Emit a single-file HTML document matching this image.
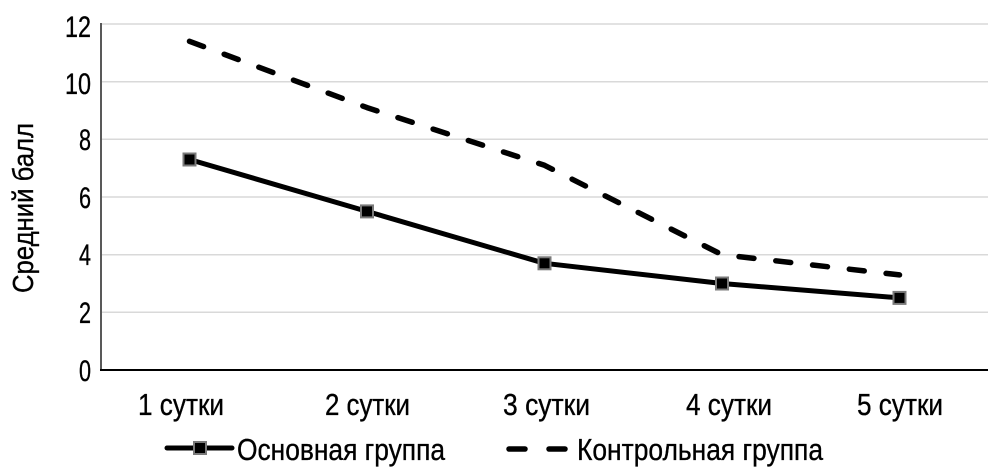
<!DOCTYPE html>
<html>
<head>
<meta charset="utf-8">
<style>
html,body{margin:0;padding:0;background:#fff;}
svg{display:block;}
text{font-family:"Liberation Sans Narrow","Liberation Sans","DejaVu Sans",sans-serif;fill:#000;stroke:#000;stroke-width:0.35px;}
</style>
</head>
<body>
<svg width="991" height="475" viewBox="0 0 991 475" xmlns="http://www.w3.org/2000/svg">
  <!-- gridlines -->
  <g stroke="#d9d9d9" stroke-width="1.5">
    <line x1="101" y1="24" x2="988" y2="24"/>
    <line x1="101" y1="81.7" x2="988" y2="81.7"/>
    <line x1="101" y1="139.3" x2="988" y2="139.3"/>
    <line x1="101" y1="197" x2="988" y2="197"/>
    <line x1="101" y1="254.7" x2="988" y2="254.7"/>
    <line x1="101" y1="312.3" x2="988" y2="312.3"/>
  </g>
  <!-- axes -->
  <line x1="101" y1="23" x2="101" y2="371" stroke="#595959" stroke-width="2"/>
  <line x1="100" y1="370" x2="988" y2="370" stroke="#000" stroke-width="2"/>

  <!-- y labels -->
  <g font-size="30" text-anchor="end">
    <text x="91" y="37" textLength="26" lengthAdjust="spacingAndGlyphs">12</text>
    <text x="91" y="94" textLength="26" lengthAdjust="spacingAndGlyphs">10</text>
    <text x="91" y="150" textLength="12" lengthAdjust="spacingAndGlyphs">8</text>
    <text x="91" y="208" textLength="12" lengthAdjust="spacingAndGlyphs">6</text>
    <text x="91" y="265" textLength="12" lengthAdjust="spacingAndGlyphs">4</text>
    <text x="91" y="323" textLength="12" lengthAdjust="spacingAndGlyphs">2</text>
    <text x="91" y="381" textLength="12" lengthAdjust="spacingAndGlyphs">0</text>
  </g>

  <!-- y title -->
  <text transform="translate(33,293) rotate(-90)" font-size="29" textLength="170" lengthAdjust="spacingAndGlyphs">Средний балл</text>

  <!-- x labels -->
  <g font-size="31">
    <text x="138" y="415" textLength="86" lengthAdjust="spacingAndGlyphs">1 сутки</text>
    <text x="325" y="415" textLength="85" lengthAdjust="spacingAndGlyphs">2 сутки</text>
    <text x="503" y="415" textLength="87" lengthAdjust="spacingAndGlyphs">3 сутки</text>
    <text x="686" y="415" textLength="86" lengthAdjust="spacingAndGlyphs">4 сутки</text>
    <text x="857" y="415" textLength="86" lengthAdjust="spacingAndGlyphs">5 сутки</text>
  </g>

  <!-- control group dashed -->
  <polyline points="189.5,41.3 367,107.6 544.5,165.3 722,254.7 899.5,274.9" fill="none" stroke="#000" stroke-width="5.5" stroke-dasharray="15 22" stroke-linecap="round" stroke-linejoin="round"/>

  <!-- main group solid -->
  <polyline points="189.5,159.5 367,211.4 544.5,263.3 722,283.5 899.5,297.9" fill="none" stroke="#000" stroke-width="5" stroke-linejoin="round"/>
  <g fill="#000" stroke="#7a7a7a" stroke-width="2">
    <rect x="183.5" y="153.5" width="12" height="12"/>
    <rect x="361" y="205.4" width="12" height="12"/>
    <rect x="538.5" y="257.3" width="12" height="12"/>
    <rect x="716" y="277.5" width="12" height="12"/>
    <rect x="893.5" y="291.9" width="12" height="12"/>
  </g>

  <!-- legend -->
  <line x1="167" y1="448" x2="232" y2="448" stroke="#000" stroke-width="5" stroke-linecap="round"/>
  <rect x="194" y="442" width="12" height="12" fill="#000" stroke="#7a7a7a" stroke-width="2"/>
  <text x="237" y="460" font-size="31" textLength="208" lengthAdjust="spacingAndGlyphs">Основная группа</text>

  <line x1="509" y1="449" x2="525" y2="449" stroke="#000" stroke-width="5.5" stroke-linecap="round"/>
  <line x1="549" y1="449" x2="565" y2="449" stroke="#000" stroke-width="5.5" stroke-linecap="round"/>
  <text x="577" y="460" font-size="31" textLength="246" lengthAdjust="spacingAndGlyphs">Контрольная группа</text>
</svg>
</body>
</html>
